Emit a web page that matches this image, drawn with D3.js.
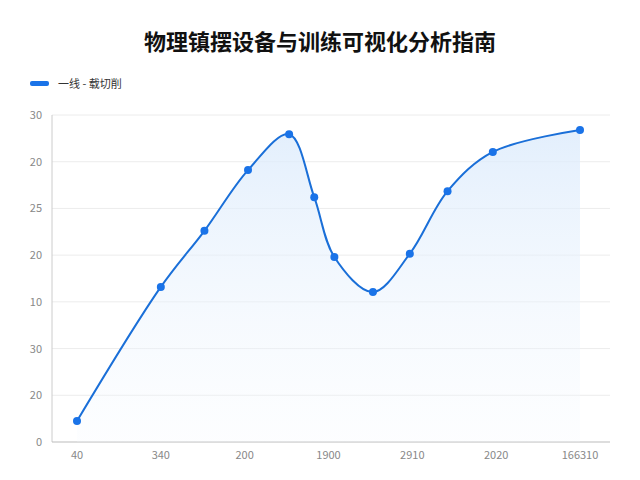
<!DOCTYPE html>
<html><head><meta charset="utf-8">
<script src="https://cdn.jsdelivr.net/npm/d3@7"></script>
<style>body{margin:0;background:#fff;font-family:"Noto Sans CJK SC","Noto Sans",sans-serif;}</style>
</head><body><svg id="c" width="640" height="480"></svg>
<script>
// tick labels as printed in the reference
var xLabels = ['40', '340', '200', '1900', '2910', '2020', '166310'];
var yLabels = ['0', '20', '30', '10', '20', '25', '20', '30'];
// series (x in category units, y in grid units)
var xs = [0, 1, 1.52, 2.04, 2.53, 2.83, 3.07, 3.53, 3.97, 4.42, 4.96, 6];
var ys = [0.45, 3.32, 4.52, 5.82, 6.59, 5.24, 3.96, 3.21, 4.03, 5.37, 6.21, 6.68];

var svg = d3.select('#c');
var m = {l: 52, r: 610, t: 115, b: 442};
var x = d3.scaleLinear().domain([0, 6]).range([77, 580]);
var y = d3.scaleLinear().domain([0, 7]).range([m.b, m.t]);

svg.append('text').attr('x', 320).attr('y', 50).attr('text-anchor', 'middle')
  .attr('font-size', 22).attr('font-weight', 'bold').attr('fill', '#111')
  .text('物理镇摆设备与训练可视化分析指南');

svg.append('rect').attr('x', 30).attr('y', 81).attr('width', 19).attr('height', 5).attr('rx', 2).attr('fill', '#1a73e8');
svg.append('text').attr('x', 58).attr('y', 88).attr('font-size', 11).attr('fill', '#333').text('一线 - 载切削');

var defs = svg.append('defs');
var g = defs.append('linearGradient').attr('id', 'gr').attr('x1', 0).attr('x2', 0).attr('y1', 0).attr('y2', 1);
g.append('stop').attr('offset', '0%').attr('stop-color', '#dcebfc').attr('stop-opacity', 0.8);
g.append('stop').attr('offset', '100%').attr('stop-color', '#f3f8fe').attr('stop-opacity', 0.2);

// grid
svg.selectAll('.grid').data(d3.range(1, 8)).enter().append('line')
  .attr('x1', m.l).attr('x2', m.r).attr('y1', d => y(d)).attr('y2', d => y(d))
  .attr('stroke', '#ececec');
svg.append('line').attr('x1', m.l).attr('x2', m.l).attr('y1', m.t).attr('y2', m.b).attr('stroke', '#ccc');
svg.append('line').attr('x1', m.l).attr('x2', m.r).attr('y1', m.b).attr('y2', m.b).attr('stroke', '#bbb');

svg.selectAll('.yl').data(yLabels).enter().append('text')
  .attr('x', 42).attr('y', (d, i) => y(i) + 4).attr('text-anchor', 'end')
  .attr('font-size', 11).attr('fill', '#888').text(d => d);
svg.selectAll('.xl').data(xLabels).enter().append('text')
  .attr('x', (d, i) => x(i)).attr('y', 459).attr('text-anchor', 'middle')
  .attr('font-size', 11).attr('fill', '#888').text(d => d);

var pts = xs.map((v, i) => [v, ys[i]]);
var area = d3.area().x(d => x(d[0])).y0(m.b).y1(d => y(d[1])).curve(d3.curveCatmullRom.alpha(0.5));
var line = d3.line().x(d => x(d[0])).y(d => y(d[1])).curve(d3.curveCatmullRom.alpha(0.5));

svg.append('path').datum(pts).attr('d', area).attr('fill', 'url(#gr)');
svg.append('path').datum(pts).attr('d', line).attr('fill', 'none').attr('stroke', '#1a6fd8').attr('stroke-width', 2);
svg.selectAll('.pt').data(pts).enter().append('circle')
  .attr('cx', d => x(d[0])).attr('cy', d => y(d[1])).attr('r', 4).attr('fill', '#1a73e8');
</script></body></html>
